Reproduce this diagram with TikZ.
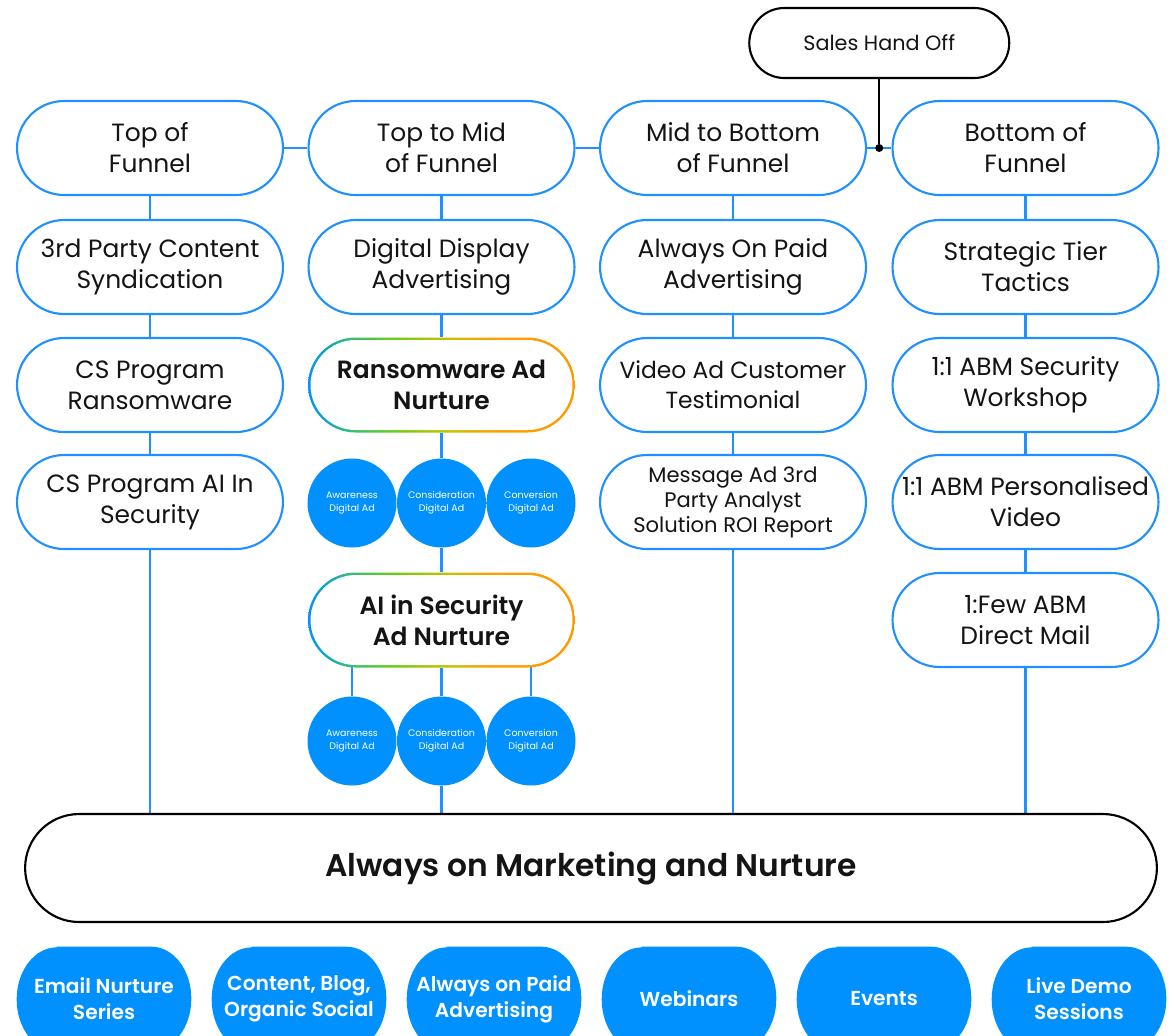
\documentclass[tikz,border=0pt]{standalone}
\usepackage{fontspec}
\setmainfont{Poppins}[BoldFont={Poppins SemiBold}]
\usetikzlibrary{backgrounds,calc}
\definecolor{lineblue}{RGB}{30,144,255}
\definecolor{circblue}{RGB}{0,145,255}
\definecolor{txt}{RGB}{20,20,20}
\pgfdeclarehorizontalshading{nurture}{100bp}{rgb(0bp)=(0,0.57,1); rgb(25bp)=(0,0.57,1); rgb(33bp)=(0.2,0.75,0.45); rgb(42bp)=(0.45,0.8,0.05); rgb(52bp)=(0.8,0.75,0); rgb(60bp)=(1,0.62,0); rgb(75bp)=(1,0.6,0); rgb(100bp)=(1,0.6,0)}
\newcommand\fsMain{\fontsize{14.2}{17.6}\selectfont}
\newcommand\fsSmall{\fontsize{12}{14.2}\selectfont}
\newcommand\fsMid{\fontsize{13.3}{17}\selectfont}
\newcommand\fsTiny{\fontsize{5.4}{7.4}\selectfont}
\newcommand\fsPill{\fontsize{11.5}{14.7}\selectfont}
\newcommand\fsBig{\fontsize{17.8}{20}\selectfont}
\newcommand\fsSales{\fontsize{11.8}{13}\selectfont}
\newcommand\PillFill[1]{%
  \fill[circblue] ([xshift=0.8cm]#1.north west) -- ([xshift=-0.8cm]#1.north east)
    arc[start angle=90, end angle=-90, x radius=0.8cm, y radius=1.04cm]
    -- ([xshift=0.8cm]#1.south west)
    arc[start angle=270, end angle=90, x radius=0.8cm, y radius=1.04cm] -- cycle;}
\begin{document}
\begin{tikzpicture}[x=0.02cm,y=-0.02cm,
  stage/.style={draw=lineblue, line width=1.2pt, fill=white, rounded corners=0.94cm,
    minimum width=5.32cm, minimum height=1.88cm, inner sep=0pt, align=center, font=\fsMain, text=txt},
  gradout/.style={shading=nurture, rounded corners=0.95cm, minimum width=5.34cm, minimum height=1.9cm, inner sep=0pt},
  gradin/.style={fill=white, rounded corners=0.9cm, minimum width=5.24cm, minimum height=1.8cm, inner sep=0pt,
    align=center, font=\fsMain\bfseries, text=txt},
  circ/.style={circle, fill=circblue, minimum size=1.78cm, inner sep=0pt, align=center, text=white, font=\fsTiny},
  pill/.style={rectangle, minimum width=3.48cm, minimum height=2.08cm,
    inner sep=0pt, align=center, text=white, font=\fsPill\bfseries},
  conn/.style={draw=lineblue, line width=1.2pt},
  bigbox/.style={draw=black, line width=1.2pt, fill=white, rounded corners=1.08cm, minimum width=22.64cm,
    minimum height=2.16cm, inner sep=0pt, font=\fsBig\bfseries, text=txt},
  salesbox/.style={draw=black, line width=1.2pt, fill=white, rounded corners=0.7cm, minimum width=5.2cm,
    minimum height=1.4cm, inner sep=0pt, font=\fsSales, text=txt}
]
\useasboundingbox (0,0) rectangle (1175,1035);

% top row
\node[stage] (t1) at (150,148) {Top of\\Funnel};
\node[stage] (t2) at (441.5,148) {Top to Mid\\of Funnel};
\node[stage] (t3) at (733,148) {Mid to Bottom\\of Funnel};
\node[stage] (t4) at (1025.5,148) {Bottom of\\Funnel};

% column 1
\node[stage] (a1) at (150,267) {3rd Party Content\\Syndication};
\node[stage] (b1) at (150,385) {CS Program\\Ransomware};
\node[stage] (c1) at (150,502) {CS Program AI In\\Security};

% column 2
\node[stage] (a2) at (441.5,267) {Digital Display\\Advertising};
\node[gradout] (rn) at (441.5,385) {};
\node[gradin] (rnt) at (rn) {Ransomware Ad\\Nurture};
\node[circ] (r1) at (352,503) {Awareness\\Digital Ad};
\node[circ] (r2) at (441.5,503) {Consideration\\Digital Ad};
\node[circ] (r3) at (531,503) {Conversion\\Digital Ad};
\node[gradout] (ai) at (441.5,620) {};
\node[gradin] (ait) at (ai) {AI in Security\\Ad Nurture};
\node[circ] (s1) at (352,741) {Awareness\\Digital Ad};
\node[circ] (s2) at (441.5,741) {Consideration\\Digital Ad};
\node[circ] (s3) at (531,741) {Conversion\\Digital Ad};

% column 3
\node[stage] (a3) at (733,267) {Always On Paid\\Advertising};
\node[stage, font=\fsMid] (b3) at (733,385) {Video Ad Customer\\Testimonial};
\node[stage, font=\fsSmall] (c3) at (733,502) {Message Ad 3rd\\Party Analyst\\Solution ROI Report};

% column 4
\node[stage] (a4) at (1025.5,267) {Strategic Tier\\Tactics};
\node[stage] (b4) at (1025.5,385) {1:1 ABM Security\\Workshop};
\node[stage] (c4) at (1025.5,502) {1:1 ABM Personalised\\Video};
\node[stage] (d4) at (1025.5,620) {1:Few ABM\\Direct Mail};

% big box
\node[bigbox] (big) at (591,868) {Always on Marketing and Nurture};

% sales hand off
\node[circle, fill=black, minimum size=0.16cm, inner sep=0pt] (dot) at ($(t3.east)!0.5!(t4.west)$) {};
\node[salesbox] (sales) at (dot |- 0,43) {Sales Hand Off};

% bottom pills
\begin{scope}[on background layer]
\node[pill] (p1) at (104,999) {};
\node[pill] (p2) at (299,999) {};
\node[pill] (p3) at (494,999) {};
\node[pill] (p4) at (689,999) {};
\node[pill] (p5) at (884,999) {};
\node[pill] (p6) at (1079,999) {};
\PillFill{p1}\PillFill{p2}\PillFill{p3}\PillFill{p4}\PillFill{p5}\PillFill{p6}
\end{scope}
\node[pill] (q1) at (p1) {Email Nurture\\Series};
\node[pill] (q2) at (p2) {Content, Blog,\\Organic Social};
\node[pill] (q3) at (p3) {Always on Paid\\Advertising};
\node[pill] (q4) at (p4) {Webinars};
\node[pill] (q5) at (p5) {Events};
\node[pill] (q6) at (p6) {Live Demo\\Sessions};

\begin{scope}[on background layer]
  \draw[conn] (t1) -- (t2) -- (t3) -- (t4);
  \draw[conn] (t1) -- (a1) -- (b1) -- (c1) -- (c1 |- big.center);
  \draw[conn] (t2) -- (a2) -- (rn) -- (r2) -- (ai);
  \draw[conn] (r1) -- (r2) -- (r3);
  \draw[conn] (s1) -- (s1 |- ai.center);
  \draw[conn] (s2) -- (ai);
  \draw[conn] (s3) -- (s3 |- ai.center);
  \draw[conn] (s1) -- (s2) -- (s3);
  \draw[conn] (s2) -- (s2 |- big.center);
  \draw[conn] (t3) -- (a3) -- (b3) -- (c3) -- (c3 |- big.center);
  \draw[conn] (t4) -- (a4) -- (b4) -- (c4) -- (d4) -- (d4 |- big.center);
  \draw[black, line width=1.2pt] (sales) -- (dot);
\end{scope}
\end{tikzpicture}
\end{document}
